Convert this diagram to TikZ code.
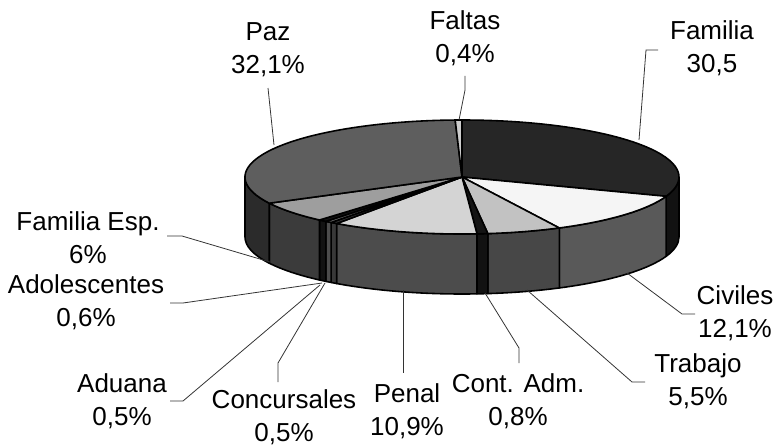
\documentclass[tikz,border=0pt]{standalone}
\usepackage{fontspec}
\setmainfont{Liberation Sans}
\begin{document}
\begin{tikzpicture}[x=0.02cm,y=0.02cm,
  slice/.style={draw=black,line width=0.9pt,line join=round},
  leader/.style={draw=black!80,line width=0.45pt},
  lbl/.style={align=center,font=\fontsize{14.8}{18.6}\selectfont,inner sep=0pt}]

\useasboundingbox (0,0) rectangle (780,447);
\coordinate (c) at (462,270);

% side wall, front half only
\foreach \a/\b/\col in {0/-19.8/black!93, -19.8/-63.36/black!65, -63.36/-83.16/black!72,
    -83.16/-86.04/black!93, -86.04/-125.28/black!70, -125.28/-127.08/black!78,
    -127.08/-128.88/black!70, -128.88/-131.04/black!93, -131.04/-152.64/black!77,
    -152.64/-180/black!83}
  \filldraw[slice,fill=\col] ([shift={(c)}]\a:217 and 57)
    arc[start angle=\a,end angle=\b,x radius=217,y radius=57] -- ++(0,-60)
    arc[start angle=\b,end angle=\a,x radius=217,y radius=57] -- cycle;

% top of the slices
\foreach \a/\b/\col in {90/-19.8/black!85, -19.8/-63.36/black!4, -63.36/-83.16/black!24,
    -83.16/-86.04/black!92, -86.04/-125.28/black!17, -125.28/-127.08/black!80,
    -127.08/-128.88/black!60, -128.88/-131.04/black!92, -131.04/-152.64/black!38,
    -152.64/-268.2/black!63, -268.2/-270/black!20}
  \filldraw[slice,fill=\col] (c) -- ([shift={(c)}]\a:217 and 57)
    arc[start angle=\a,end angle=\b,x radius=217,y radius=57] -- cycle;

% labels
\node[lbl] (paz) at (268,397) {Paz\\32,1\%};
\node[lbl] (faltas) at (465,408.5) {Faltas\\0,4\%};
\node[lbl] (familia) at (712,398.5) {Familia\\30,5};
\node[lbl] (famesp) at (88,209.5) {Familia Esp.\\6\%};
\node[lbl] (adol) at (86,144.5) {Adolescentes\\0,6\%};
\node[lbl] (aduana) at (122,45.5) {Aduana\\0,5\%};
\node[lbl] (concur) at (284,29.5) {Concursales\\0,5\%};
\node[lbl] (penal) at (407,36) {Penal\\10,9\%};
\node[lbl] (contadm) at (518,45.5) {Cont. Adm.\\0,8\%};
\node[lbl] (civiles) at (735,134) {Civiles\\12,1\%};
\node[lbl] (trabajo) at (698,65.5) {Trabajo\\5,5\%};

% leader lines
\coordinate (pazA) at (274,302);   \coordinate (pazB) at (268,359);
\coordinate (falA) at (459,327);   \coordinate (falB) at (465,357);   \coordinate (falC) at (465,371);
\coordinate (famA) at (639,307);   \coordinate (famB) at (646,397);   \coordinate (famC) at (658,397);
\coordinate (espA) at (270,185);   \coordinate (espB) at (182,211);   \coordinate (espC) at (167,211);
\coordinate (adoA) at (322,164);   \coordinate (adoB) at (183,144);   \coordinate (adoC) at (170,144);
\coordinate (aduA) at (320,162);   \coordinate (aduB) at (183,46);    \coordinate (aduC) at (170,46);
\coordinate (conA) at (325,164);   \coordinate (conB) at (278,84);    \coordinate (conC) at (278,65);
\coordinate (penA) at (403,157);   \coordinate (penB) at (403,74);
\coordinate (caA) at (485,154);    \coordinate (caB) at (519,99);     \coordinate (caC) at (519,84);
\coordinate (traA) at (527,157);   \coordinate (traB) at (632,65);    \coordinate (traC) at (645,65);
\coordinate (civA) at (627,174);   \coordinate (civB) at (682,133);   \coordinate (civC) at (695,133);

\draw[leader] (pazA) -- (pazB);
\draw[leader] (falA) -- (falB) -- (falC);
\draw[leader] (famA) -- (famB) -- (famC);
\draw[leader] (espA) -- (espB) -- (espC);
\draw[leader] (adoA) -- (adoB) -- (adoC);
\draw[leader] (aduA) -- (aduB) -- (aduC);
\draw[leader] (conA) -- (conB) -- (conC);
\draw[leader] (penA) -- (penB);
\draw[leader] (caA) -- (caB) -- (caC);
\draw[leader] (traA) -- (traB) -- (traC);
\draw[leader] (civA) -- (civB) -- (civC);

\end{tikzpicture}
\end{document}
